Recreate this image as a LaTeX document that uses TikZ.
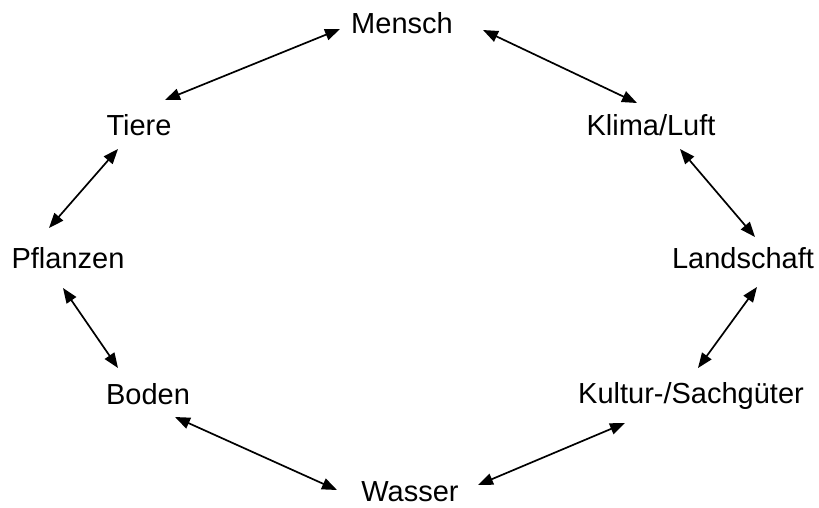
\documentclass[tikz,border=0pt]{standalone}
\usepackage{fontspec}
\setmainfont{Liberation Sans}
\usetikzlibrary{arrows.meta,calc}
\tikzset{
  lbl/.style={inner sep=0pt, anchor=base, font=\fontsize{29}{34}\selectfont},
  link/.style={line width=1.7pt, {Triangle[length=15pt,width=11.5pt]}-{Triangle[length=15pt,width=11.5pt]}}
}
\begin{document}
\begin{tikzpicture}[x=1pt,y=-1pt]
\useasboundingbox (0,0) rectangle (819,507);
\node[lbl] (mensch) at (402,33) {Mensch};
\node[lbl] (tiere) at (139,135) {Tiere};
\node[lbl] (pflanzen) at (68,268) {Pflanzen};
\node[lbl] (boden) at (148,404) {Boden};
\node[lbl] (wasser) at (410,501) {Wasser};
\node[lbl] (kultur) at (691,403) {Kultur-/Sachgüter};
\node[lbl] (landschaft) at (743,268) {Landschaft};
\node[lbl] (klima) at (651,135) {Klima/Luft};

\draw[link] ($(mensch.base)+(-62,-4)$) -- ($(tiere.base)+(26,-35)$);
\draw[link] ($(mensch.base)+(81,-3)$) -- ($(klima.base)+(-14,-32)$);
\draw[link] ($(tiere.base)+(-21,14)$) -- ($(pflanzen.base)+(-19,-40)$);
\draw[link] ($(pflanzen.base)+(-5,20)$) -- ($(boden.base)+(-30,-36)$);
\draw[link] ($(boden.base)+(27,13)$) -- ($(wasser.base)+(-73,-11)$);
\draw[link] ($(wasser.base)+(68,-16)$) -- ($(kultur.base)+(-66,20)$);
\draw[link] ($(kultur.base)+(7,-35)$) -- ($(landschaft.base)+(14,19)$);
\draw[link] ($(landschaft.base)+(12,-31)$) -- ($(klima.base)+(29,14)$);
\end{tikzpicture}
\end{document}
